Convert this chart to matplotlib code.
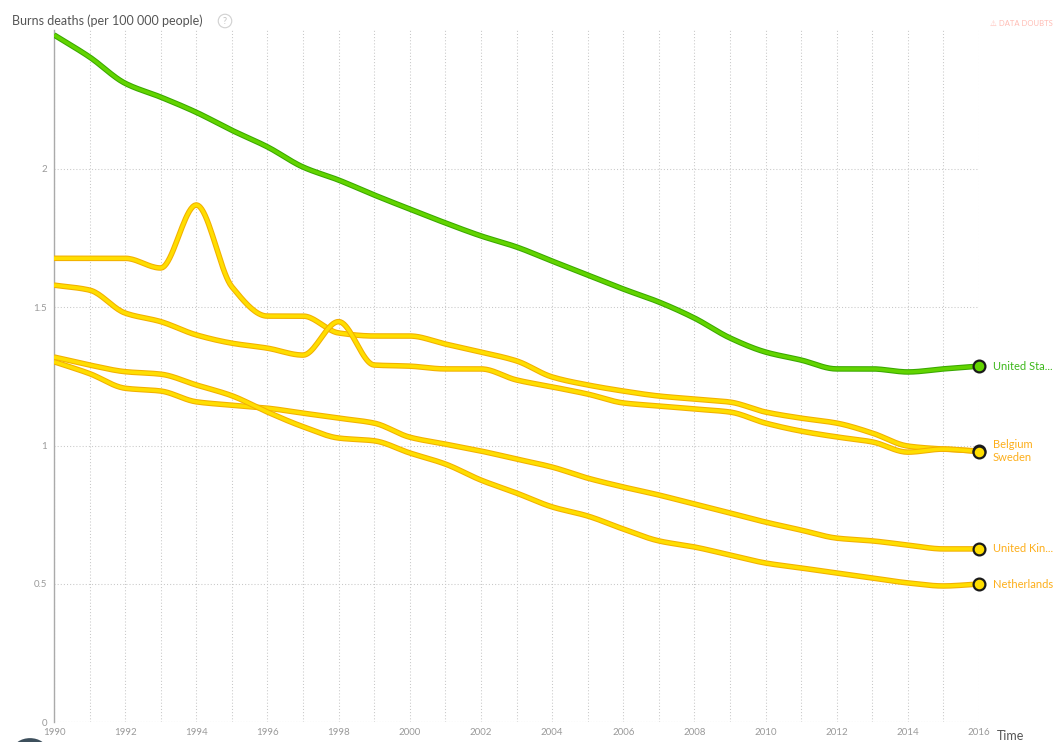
import numpy as np
import matplotlib
matplotlib.use("Agg")
import matplotlib.pyplot as plt
import matplotlib.patheffects as pe
from matplotlib.patches import Circle

years = list(range(1990, 2017))

united_states = [2.485, 2.405, 2.31, 2.26, 2.205, 2.14, 2.08, 2.007, 1.96, 1.906, 1.855,
                 1.805, 1.758, 1.718, 1.667, 1.617, 1.566, 1.519, 1.461, 1.389, 1.338,
                 1.309, 1.277, 1.277, 1.266, 1.277, 1.287]
belgium = [1.677, 1.677, 1.677, 1.642, 1.87, 1.574, 1.468, 1.468, 1.407, 1.396, 1.396,
           1.367, 1.338, 1.306, 1.248, 1.219, 1.197, 1.179, 1.168, 1.157, 1.121,
           1.099, 1.081, 1.045, 0.998, 0.987, 0.98]
sweden = [1.58, 1.562, 1.479, 1.448, 1.40, 1.37, 1.352, 1.327, 1.448, 1.291, 1.287,
          1.277, 1.277, 1.237, 1.212, 1.186, 1.154, 1.143, 1.132, 1.121, 1.081,
          1.052, 1.031, 1.013, 0.976, 0.987, 0.978]
united_kingdom = [1.303, 1.26, 1.207, 1.197, 1.158, 1.146, 1.135, 1.117, 1.099, 1.081, 1.03,
                  1.005, 0.98, 0.951, 0.922, 0.882, 0.85, 0.821, 0.788, 0.756, 0.723,
                  0.694, 0.665, 0.655, 0.64, 0.626, 0.626]
netherlands = [1.32, 1.291, 1.267, 1.258, 1.219, 1.18, 1.121, 1.068, 1.027, 1.017, 0.973,
               0.933, 0.875, 0.828, 0.778, 0.745, 0.698, 0.655, 0.633, 0.604, 0.575,
               0.557, 0.539, 0.521, 0.503, 0.492, 0.499]

y_ticks = [0, 0.5, 1, 1.5, 2]
y_tick_labels = ["0", "0.5", "1", "1.5", "2"]
x_ticks = list(range(1990, 2017, 2))

GREEN_IN, GREEN_OUT, GREEN_TXT = "#62d400", "#3aa800", "#3cb81a"
YEL_IN, YEL_OUT, YEL_TXT = "#ffde00", "#f2b000", "#fdae1a"

series = [
    ("United Sta...", united_states, GREEN_IN, GREEN_OUT, GREEN_TXT),
    ("Belgium", belgium, YEL_IN, YEL_OUT, YEL_TXT),
    ("Sweden", sweden, YEL_IN, YEL_OUT, YEL_TXT),
    ("United Kin...", united_kingdom, YEL_IN, YEL_OUT, YEL_TXT),
    ("Netherlands", netherlands, YEL_IN, YEL_OUT, YEL_TXT),
]


def monotone(x, y, n=20):
    x = np.asarray(x, float)
    y = np.asarray(y, float)
    h = np.diff(x)
    d = np.diff(y) / h
    m = np.zeros_like(y)
    m[0], m[-1] = d[0], d[-1]
    for i in range(1, len(y) - 1):
        if d[i - 1] * d[i] <= 0:
            m[i] = 0
        else:
            w1 = 2 * h[i] + h[i - 1]
            w2 = h[i] + 2 * h[i - 1]
            m[i] = (w1 + w2) / (w1 / d[i - 1] + w2 / d[i])
    xs, ys = [], []
    for i in range(len(x) - 1):
        t = np.linspace(0, 1, n, endpoint=False)
        h00 = 2 * t**3 - 3 * t**2 + 1
        h10 = t**3 - 2 * t**2 + t
        h01 = -2 * t**3 + 3 * t**2
        h11 = t**3 - t**2
        xs.append(x[i] + t * h[i])
        ys.append(h00 * y[i] + h10 * h[i] * m[i] + h01 * y[i + 1] + h11 * h[i] * m[i + 1])
    xs.append([x[-1]])
    ys.append([y[-1]])
    return np.concatenate(xs), np.concatenate(ys)


plt.rcParams['font.family'] = ['Lato', 'DejaVu Sans']

fig = plt.figure(figsize=(10.55, 7.42), dpi=100)
ax = fig.add_axes([54 / 1055, 20 / 742, 925 / 1055, 692 / 742])
ax.set_xlim(1990, 2016)
ax.set_ylim(0, 692 / 276.5)

grid_kw = dict(color="#c8c8c8", lw=0.75, ls=(0, (1, 2)), zorder=0)
for yr in years:
    ax.axvline(yr, **grid_kw)
for yv in y_ticks[1:]:
    ax.axhline(yv, **grid_kw)
ax.axhline(0, color="#bbbbbb", lw=0.8, ls=(0, (1, 1.5)), zorder=0)

for s in ["top", "right", "bottom"]:
    ax.spines[s].set_visible(False)
ax.spines["left"].set_color("#aaaaaa")
ax.spines["left"].set_linewidth(1.0)

ax.set_yticks(y_ticks)
ax.set_yticklabels(y_tick_labels)
ax.set_xticks(x_ticks)
ax.set_xticklabels([str(v) for v in x_ticks])
ax.tick_params(axis="both", length=0, colors="#9a9a9a", labelsize=7)
ax.tick_params(axis="x", pad=4)
ax.tick_params(axis="y", pad=5)

for name, vals, cin, cout, ctxt in series:
    xs, ys = monotone(years, vals)
    ax.plot(xs, ys, color=cin, lw=2.5, solid_capstyle="butt", zorder=3,
            path_effects=[pe.Stroke(linewidth=4.0, foreground=cout), pe.Normal()])
    ax.plot([years[-1]], [vals[-1]], "o", ms=8.5, mfc=cin, mec="#1a1a1a", mew=1.6,
            zorder=5, clip_on=False)

label_pos = [
    ("United Sta...", united_states[-1], GREEN_TXT),
    ("Belgium", 1.003, YEL_TXT),
    ("Sweden", 0.956, YEL_TXT),
    ("United Kin...", united_kingdom[-1], YEL_TXT),
    ("Netherlands", netherlands[-1], YEL_TXT),
]
for txt, yv, c in label_pos:
    ax.annotate(txt, xy=(2016, yv), xytext=(10, 0), textcoords="offset points",
                ha="left", va="center", fontsize=8, color=c, annotation_clip=False)

fig.text(12 / 1055, 1 - 21 / 742, "Burns deaths (per 100 000 people)", fontsize=9,
         color="#555555", ha="left", va="center")
fig.text(225 / 1055, 1 - 21 / 742, "?", fontsize=6.5, color="#c0c0c0", ha="center",
         va="center", bbox=dict(boxstyle="circle,pad=0.25", fc="white", ec="#d0d0d0", lw=0.8))
fig.text(1053 / 1055, 1 - 23 / 742, "\u26a0 DATA DOUBTS", fontsize=5.5, color="#ffbdb5",
         ha="right", va="center")
fig.text(997 / 1055, 1 - 736 / 742, "Time", fontsize=9, color="#555555", ha="left", va="center")

fig.patches.append(Circle((30 / 1055, -8 / 742), 0.016, transform=fig.transFigure,
                          fc="#3d4f5c", ec="none"))

fig.savefig("out.png", dpi=100)
